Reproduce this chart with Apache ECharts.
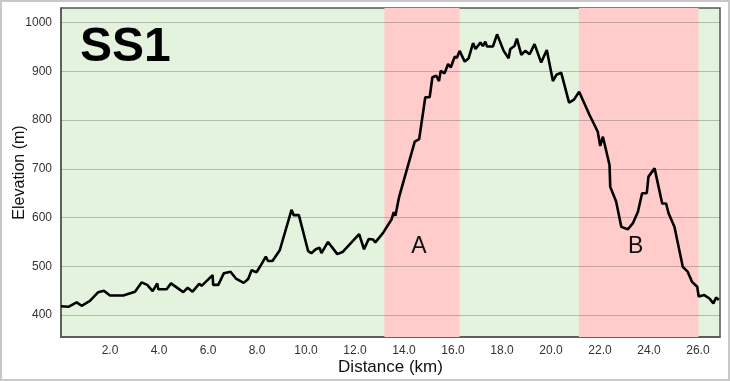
<!DOCTYPE html>
<html>
<head>
<meta charset="utf-8">
<script src="https://cdn.jsdelivr.net/npm/echarts@6/dist/echarts.min.js"></script>
<style>
html,body{margin:0;padding:0;background:#fff;}
#chart{width:730px;height:381px;}
</style>
</head>
<body>
<div id="chart"></div>
<script>
// stage profile, distance in km / elevation in m
var distances = [0.0,0.3,0.64,0.84,1.18,1.52,1.75,2.0,2.54,3.02,3.29,3.52,3.74,3.93,3.97,4.31,4.49,4.99,5.17,5.37,
  5.64,5.74,6.19,6.21,6.42,6.65,6.92,7.14,7.46,7.64,7.78,7.98,8.12,8.36,8.45,8.63,8.93,9.41,9.50,9.71,
  10.09,10.22,10.40,10.56,10.63,10.90,11.28,11.51,12.17,12.37,12.56,12.74,12.83,13.14,13.21,13.49,13.58,13.65,13.80,14.44,
  14.62,14.87,15.05,15.16,15.32,15.43,15.50,15.66,15.80,15.91,16.07,16.16,16.27,16.48,16.64,16.82,16.92,17.12,17.22,17.32,
  17.39,17.63,17.80,18.07,18.27,18.34,18.51,18.61,18.79,18.95,19.13,19.33,19.60,19.83,20.08,20.22,20.42,20.74,20.94,21.15,
  21.57,21.91,22.01,22.12,22.39,22.42,22.66,22.87,23.14,23.34,23.55,23.72,23.91,23.98,24.23,24.54,24.70,24.80,25.04,25.38,
  25.58,25.76,25.97,26.03,26.26,26.47,26.63,26.74,26.85]
var elevations = [418,417,426,419,429,447,450,440,440,448,467,462,449,465,453,453,465,447,456,448,
  464,460,482,462,462,486,489,475,466,474,492,488,499,520,511,511,533,616,605,605,
  531,527,535,538,527,550,525,530,566,535,556,555,549,568,570,596,611,604,642,756,
  761,847,847,888,891,880,901,896,915,908,930,928,942,920,927,958,946,959,952,961,
  951,951,976,942,927,946,952,967,934,942,935,956,918,944,880,893,897,836,842,858,
  811,776,747,766,708,663,633,581,576,588,612,650,650,684,701,629,629,609,581,499,
  489,468,458,438,441,434,424,436,431]

// special sections
var sectionNames = ['A','B']
var sectionStart = [13.2,21.14]
var sectionEnd = [16.27,26.02]
var yTicks = [400,500,600,700,800,900,1000]

var profile = distances.map(function(d,i){ return [d,elevations[i]] })
var bands = sectionNames.map(function(n,i){
  return [{name:n,xAxis:sectionStart[i]},{xAxis:sectionEnd[i]}]
})

var chart = echarts.init(document.getElementById('chart'))
var option = {
  animation:false,
  grid:{
    left:61,right:10,top:8,bottom:44,
    containLabel:false,
    outerBoundsMode:'none',
    show:true,
    backgroundColor:'#e3f3de',
    borderColor:'#555',
    borderWidth:1.5
  },
  graphic:[
    {type:'rect',shape:{x:1,y:1,width:728,height:379},style:{fill:null,stroke:'#c8c8c8',lineWidth:2},z:0},
    {type:'text',left:80,top:24,z:10,style:{text:'SS1',font:'bold 48px "Liberation Sans", Arial, sans-serif',fill:'#000'}}
  ],
  xAxis:{
    type:'value',
    min:0,max:26.9,interval:2,
    name:'Distance (km)',
    nameLocation:'middle',
    nameGap:22,
    nameMoveOverlap:false,
    nameTextStyle:{fontSize:17,color:'#111',fontFamily:'Liberation Sans',verticalAlign:'top'},
    axisLine:{show:true,lineStyle:{color:'#555',width:1.5}},
    axisTick:{show:false},
    splitLine:{show:false},
    axisLabel:{
      color:'#333',fontSize:12,fontFamily:'Liberation Sans',margin:8,
      showMinLabel:false,showMaxLabel:false,
      formatter:function(v){ return v.toFixed(1) }
    }
  },
  yAxis:{
    type:'value',
    min:355,max:1030,
    z:2,
    name:'Elevation (m)',
    nameLocation:'middle',
    nameGap:33,
    nameMoveOverlap:false,
    nameTextStyle:{fontSize:16,color:'#111',fontFamily:'Liberation Sans'},
    axisLine:{show:true,lineStyle:{color:'#555',width:1.5}},
    axisTick:{show:false,customValues:yTicks},
    splitLine:{show:true,lineStyle:{color:'rgba(80,90,80,0.35)',width:1}},
    axisLabel:{
      color:'#333',fontSize:12,fontFamily:'Liberation Sans',margin:9,customValues:yTicks,
      formatter:function(v){ return String(v) }
    }
  },
  series:[
    {
      // only carries the red bands, under the grid lines
      type:'line',
      z:1,
      data:profile,
      showSymbol:false,
      lineStyle:{opacity:0},
      silent:true,
      markArea:{
        silent:true,
        itemStyle:{color:'#ffcccb'},
        label:{show:true,position:'inside',offset:[-3,74],fontSize:23,color:'#111',fontFamily:'Liberation Sans'},
        data:bands
      }
    },
    {
      type:'line',
      z:3,
      data:profile,
      showSymbol:false,
      lineStyle:{color:'#000',width:2.6},
      silent:true
    }
  ]
}
chart.setOption(option)
</script>
</body>
</html>
